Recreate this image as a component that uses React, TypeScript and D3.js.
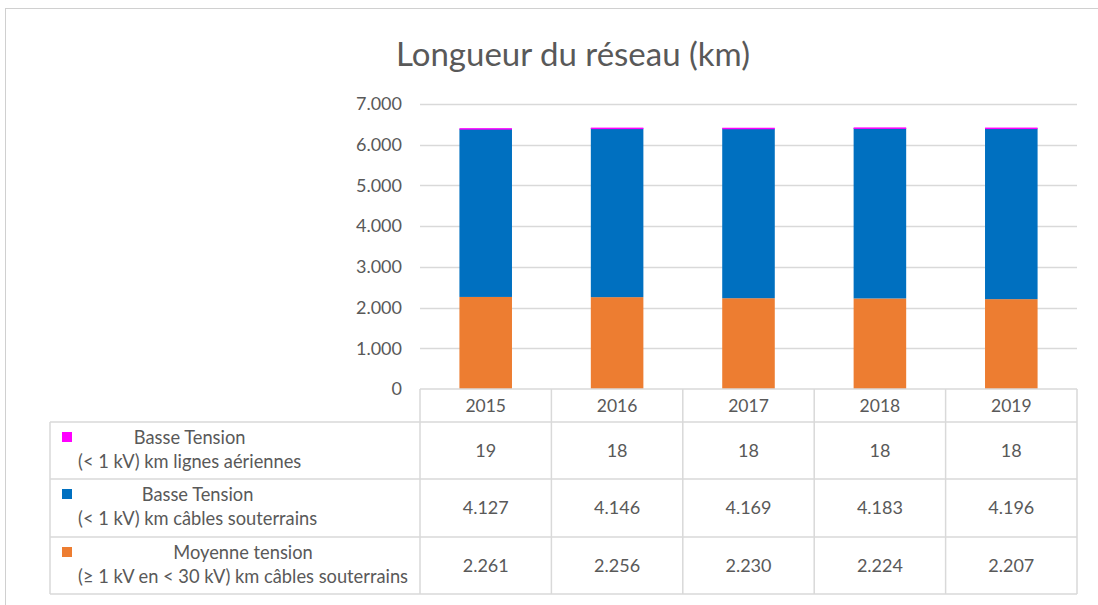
import React, { useEffect, useRef } from 'react';
import * as d3 from 'd3';

const years = ['2015', '2016', '2017', '2018', '2019'];
const mtCables = [2261, 2256, 2230, 2224, 2207];
const btCables = [4127, 4146, 4169, 4183, 4196];
const btLignes = [19, 18, 18, 18, 18];
const yTicks = [0, 1000, 2000, 3000, 4000, 5000, 6000, 7000];

// table order (top to bottom) is the reverse of the stack order
const seriesRows = [
  { key: 'btLignes', lines: ['Basse Tension', '(< 1 kV) km lignes aériennes'], color: '#FF00FF', values: btLignes },
  { key: 'btCables', lines: ['Basse Tension', '(< 1 kV) km câbles souterrains'], color: '#0070C0', values: btCables },
  { key: 'mtCables', lines: ['Moyenne tension', '(≥ 1 kV en < 30 kV) km câbles souterrains'], color: '#ED7D31', values: mtCables },
];

const W = 1098;
const H = 605;
const FONT = 'Lato, "Open Sans", sans-serif';
const TEXT = '#595959';
const GRID = '#d9d9d9';

const fmt = (v: number) => d3.format(',')(v).replace(/,/g, '.');

const App = () => {
  const ref = useRef<SVGSVGElement | null>(null);

  useEffect(() => {
    const svg = d3.select(ref.current);
    svg.selectAll('*').remove();

    const left = 420;
    const right = 1077;
    const top = 104;
    const bottom = 389;
    const rowH = [33, 57, 58, 57];
    const tableLeft = 50;

    const x = d3.scaleBand().domain(years).range([left, right]).paddingInner(0).paddingOuter(0);
    const y = d3.scaleLinear().domain([0, 7000]).range([bottom, top]);

    // outer chart border
    svg.append('rect')
      .attr('x', 5.5).attr('y', 8.5)
      .attr('width', W).attr('height', H)
      .attr('fill', '#fff')
      .attr('stroke', '#d0d0d0');

    svg.append('text')
      .attr('x', 573).attr('y', 66)
      .attr('text-anchor', 'middle')
      .attr('font-family', FONT)
      .attr('font-size', 33)
      .attr('fill', TEXT)
      .text('Longueur du réseau (km)');

    // gridlines
    svg.append('g')
      .selectAll('line')
      .data(yTicks.filter(t => t > 0))
      .join('line')
        .attr('x1', left).attr('x2', right)
        .attr('y1', d => Math.round(y(d)) + 0.5)
        .attr('y2', d => Math.round(y(d)) + 0.5)
        .attr('stroke', GRID)
        .attr('stroke-width', 1.5);

    svg.append('g')
      .selectAll('text')
      .data(yTicks)
      .join('text')
        .attr('x', 402)
        .attr('y', d => y(d))
        .attr('dy', '0.35em')
        .attr('text-anchor', 'end')
        .attr('font-family', FONT)
        .attr('font-size', 18)
        .attr('fill', TEXT)
        .text(d => fmt(d));

    // stacked bars
    const rows = years.map((yr, i) => ({ year: yr, mt: mtCables[i], bt: btCables[i], btl: btLignes[i] }));
    const stack = d3.stack<any>().keys(['mt', 'bt', 'btl'])(rows);
    const colors: Record<string, string> = { mt: '#ED7D31', bt: '#0070C0', btl: '#FF00FF' };
    const barW = x.bandwidth() / 2.5;

    svg.append('g')
      .selectAll('g')
      .data(stack)
      .join('g')
        .attr('fill', d => colors[d.key])
      .selectAll('rect')
      .data(d => d)
      .join('rect')
        .attr('x', d => (x(d.data.year) as number) + (x.bandwidth() - barW) / 2)
        .attr('width', barW)
        .attr('y', d => y(d[1]))
        .attr('height', d => Math.max(y(d[0]) - y(d[1]), 1.5));

    // data table
    const rowTops = [bottom];
    rowH.forEach((h, i) => rowTops.push(rowTops[i] + h));
    const tableBottom = rowTops[rowTops.length - 1];
    const g = svg.append('g').attr('stroke', GRID).attr('stroke-width', 1.5);

    // horizontal lines
    g.append('line').attr('x1', left).attr('x2', right).attr('y1', rowTops[0]).attr('y2', rowTops[0]);
    rowTops.slice(1).forEach(t => {
      g.append('line').attr('x1', tableLeft).attr('x2', right).attr('y1', t).attr('y2', t);
    });
    // vertical lines
    g.append('line').attr('x1', tableLeft).attr('x2', tableLeft).attr('y1', rowTops[1]).attr('y2', tableBottom);
    [...years.map(yr => x(yr) as number), right].forEach(vx => {
      g.append('line').attr('x1', vx).attr('x2', vx).attr('y1', rowTops[0]).attr('y2', tableBottom);
    });

    // year header
    svg.append('g')
      .selectAll('text')
      .data(years)
      .join('text')
        .attr('x', d => (x(d) as number) + x.bandwidth() / 2)
        .attr('y', (rowTops[0] + rowTops[1]) / 2)
        .attr('dy', '0.35em')
        .attr('text-anchor', 'middle')
        .attr('font-family', FONT)
        .attr('font-size', 17.5)
        .attr('fill', TEXT)
        .text(d => d);

    seriesRows.forEach((s, r) => {
      const t0 = rowTops[r + 1];
      const t1 = rowTops[r + 2];
      const mid = (t0 + t1) / 2;

      // legend key
      svg.append('rect')
        .attr('x', 62).attr('y', t0 + 10)
        .attr('width', 10).attr('height', 10)
        .attr('fill', s.color);

      // label block, lines centered on the widest line
      const label = svg.append('text')
        .attr('font-family', FONT)
        .attr('font-size', 18.3)
        .attr('fill', TEXT)
        .attr('text-anchor', 'middle');
      const spans = s.lines.map((ln, k) => label.append('tspan')
        .attr('y', t0 + 22 + k * 24)
        .text(ln));
      const widest = d3.max(spans, sp => (sp.node() as SVGTSpanElement).getComputedTextLength()) || 0;
      spans.forEach(sp => sp.attr('x', 78 + widest / 2));

      svg.append('g')
        .selectAll('text')
        .data(s.values)
        .join('text')
          .attr('x', (d, i) => (x(years[i]) as number) + x.bandwidth() / 2)
          .attr('y', mid)
          .attr('dy', '0.35em')
          .attr('text-anchor', 'middle')
          .attr('font-family', FONT)
          .attr('font-size', 18)
          .attr('fill', TEXT)
          .text(d => fmt(d));
    });
  }, []);

  return (
    <svg
      ref={ref}
      width={W}
      height={H}
      style={{ position: 'absolute', left: 0, top: 0, background: '#fff' }}
    />
  );
};

export default App;
